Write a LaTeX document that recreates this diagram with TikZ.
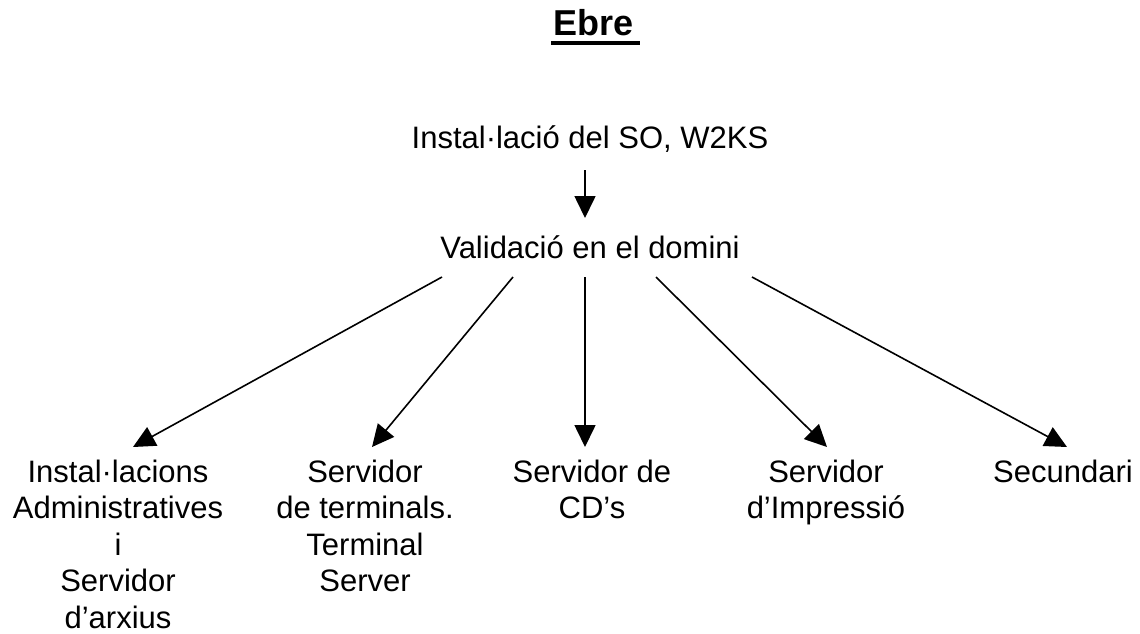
\documentclass[tikz,border=0pt]{standalone}
\usepackage{fontspec}
\setmainfont{Liberation Sans}
\usetikzlibrary{arrows.meta,calc}
\begin{document}
\begin{tikzpicture}[x=1pt,y=-1pt,
  lbl/.style={inner sep=0pt,anchor=base,align=center,font=\fontsize{31}{36.5}\selectfont},
  multi/.style={lbl,anchor=north},
  arr/.style={line width=1.6pt,-{Triangle[length=22pt,width=21pt]}}]
\useasboundingbox (0,0) rectangle (1140,633);
\node[inner sep=0pt,anchor=base,font=\fontsize{36}{42}\selectfont\bfseries] (title) at (593.5,35) {Ebre};
\draw[line width=4pt] ([xshift=-2pt,yshift=-8pt]title.base west) -- ([xshift=6pt,yshift=-8pt]title.base east);
\node[lbl] (inst) at (590,148) {Instal·lació del SO, W2KS};
\node[lbl] (val) at (590,258) {Validació en el domini};
\node[multi] (a) at (118,459.4) {Instal·lacions\\Administratives\\i\\Servidor\\d’arxius};
\node[multi] (b) at (365,459.4) {Servidor\\de terminals.\\Terminal\\Server};
\node[multi] (c) at (592,459.4) {Servidor de\\CD’s};
\node[multi] (d) at (826,459.4) {Servidor\\d’Impressió};
\node[lbl] (e) at (1063,482) {Secundari};
\draw[arr] ($(inst.base)+(-5,22)$) -- ($(val.base)+(-5,-40)$);
\draw[arr] ($(val.base)+(-148,19)$) -- ($(a.north)+(15,-12.4)$);
\draw[arr] ($(val.base)+(-77,19)$) -- ($(b.north)+(7,-12.4)$);
\draw[arr] ($(val.base)+(-5,19)$) -- ($(c.north)+(-7,-12.4)$);
\draw[arr] ($(val.base)+(66,19)$) -- ($(d.north)+(1,-12.4)$);
\draw[arr] ($(val.base)+(162,19)$) -- ($(e.base)+(4,-35)$);
\end{tikzpicture}
\end{document}
